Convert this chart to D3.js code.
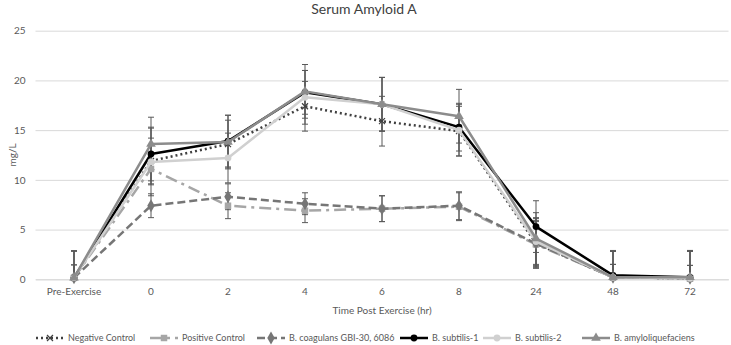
<!DOCTYPE html>
<html><head><meta charset="utf-8">
<script src="https://cdn.jsdelivr.net/npm/d3@7"></script>
<style>body{margin:0;background:#fff}svg{font-family:Lato,"Open Sans",sans-serif}</style>
</head><body><svg id="c" width="731" height="345"></svg>
<script>
const categories = ["Pre-Exercise","0","2","4","6","8","24","48","72"];
const yTicks = [0,5,10,15,20,25];
const negControl   = [0.15,11.9,13.6,17.4,15.9,14.9,3.6,0.2,0.1];
const posControl   = [0.15,11.1,7.4,6.9,7.1,7.3,3.5,0.2,0.1];
const coagulans    = [0.15,7.4,8.3,7.6,7.1,7.4,3.6,0.2,0.1];
const subtilis1    = [0.15,12.6,13.9,18.8,17.6,15.3,5.3,0.4,0.2];
const subtilis2    = [0.15,11.8,12.2,18.3,17.6,15.0,3.8,0.2,0.1];
const amyloliq     = [0.15,13.6,13.8,18.9,17.6,16.4,4.1,0.2,0.2];
const negErr  = [2.7,2.3,2.4,2.5,2.5,2.5,2.5,2.6,2.7];
const posErr  = [1.3,1.6,1.3,1.2,1.3,1.4,2.3,1.3,1.3];
const coagErr = [1.3,1.2,1.3,1.1,1.3,1.4,2.3,1.3,1.3];
const sub1Err = [2.7,2.7,2.6,2.2,2.7,2.4,2.6,2.5,2.7];
const sub2Err = [2.7,3.4,2.5,2.7,2.7,2.6,2.4,2.6,2.7];
const amyErr  = [2.7,2.7,2.7,2.7,2.7,2.7,2.6,2.6,2.7];
const seriesNames = ["Negative Control","Positive Control","B. coagulans GBI-30, 6086","B. subtilis-1","B. subtilis-2","B. amyloliquefaciens"];

const series = [
 {name:seriesNames[0],v:negControl,e:negErr,color:"#404040",dash:"2,3",w:2.5,m:"x"},
 {name:seriesNames[1],v:posControl,e:posErr,color:"#a6a6a6",dash:"12,5,3,5",w:2.5,m:"square"},
 {name:seriesNames[2],v:coagulans,e:coagErr,color:"#767676",dash:"8,4",w:2.5,m:"diamond"},
 {name:seriesNames[3],v:subtilis1,e:sub1Err,color:"#000000",dash:null,w:2.5,m:"circle"},
 {name:seriesNames[4],v:subtilis2,e:sub2Err,color:"#d0d0d0",dash:null,w:2.5,m:"circle"},
 {name:seriesNames[5],v:amyloliq,e:amyErr,color:"#8c8c8c",dash:null,w:2.5,m:"triangle"}
];

const svg = d3.select("#c");
const x = d3.scaleBand().domain(categories).range([35.5,728.5]);
const y = d3.scaleLinear().domain([0,25]).range([279.3,30.7]);
const cx = c => x(c)+x.bandwidth()/2;

svg.append("text").attr("x",364).attr("y",14).attr("text-anchor","middle")
  .attr("font-size",14).attr("fill","#404040").text("Serum Amyloid A");

const ya = svg.append("g").attr("transform","translate(35.5,0)")
  .call(d3.axisLeft(y).tickValues(yTicks).tickSize(-693).tickPadding(10));
ya.select(".domain").remove();
ya.selectAll("line").attr("stroke","#d9d9d9");
ya.selectAll("text").attr("font-size",10).attr("fill","#595959").attr("font-family","Lato");

const xa = svg.append("g").attr("transform","translate(0,279.3)")
  .call(d3.axisBottom(x).tickSize(0).tickPadding(9));
xa.select(".domain").attr("stroke","#d9d9d9");
xa.selectAll("text").attr("font-size",10).attr("fill","#595959").attr("font-family","Lato");

svg.append("text").attr("x",382).attr("y",314).attr("text-anchor","middle")
  .attr("font-size",10).attr("fill","#595959").text("Time Post Exercise (hr)");
svg.append("text").attr("transform","translate(16,155) rotate(-90)").attr("text-anchor","middle")
  .attr("font-size",10).attr("fill","#595959").text("mg/L");

// error bars
const eg = svg.append("g").attr("stroke","#595959").attr("stroke-width",1);
series.forEach(s=>{
  categories.forEach((c,i)=>{
    const X=cx(c), hi=Math.min(25,s.v[i]+s.e[i]), lo=Math.max(0,s.v[i]-s.e[i]);
    eg.append("line").attr("x1",X).attr("x2",X).attr("y1",y(hi)).attr("y2",y(lo));
    eg.append("line").attr("x1",X-3).attr("x2",X+3).attr("y1",y(hi)).attr("y2",y(hi));
    if (s.v[i]-s.e[i]>0) eg.append("line").attr("x1",X-3).attr("x2",X+3).attr("y1",y(lo)).attr("y2",y(lo));
  });
});

const line = d3.line().x((d,i)=>cx(categories[i])).y(d=>y(d));
function marker(g,m,X,Y,color){
  if(m==="x"){
    g.append("path").attr("d",`M${X-3},${Y-3}L${X+3},${Y+3}M${X-3},${Y+3}L${X+3},${Y-3}`)
     .attr("stroke",color).attr("stroke-width",1.2).attr("fill","none");
  } else {
    const t={square:d3.symbolSquare,diamond:d3.symbolDiamond,circle:d3.symbolCircle,triangle:d3.symbolTriangle}[m];
    const sz={square:42,diamond:48,circle:36,triangle:40}[m];
    g.append("path").attr("d",d3.symbol().type(t).size(sz)()).attr("transform",`translate(${X},${Y})`)
     .attr("fill",color);
  }
}
series.forEach(s=>{
  svg.append("path").datum(s.v).attr("d",line).attr("fill","none").attr("stroke",s.color)
    .attr("stroke-width",s.w).attr("stroke-dasharray",s.dash).attr("stroke-linejoin","round");
  const g=svg.append("g");
  s.v.forEach((v,i)=>marker(g,s.m,cx(categories[i]),y(v),s.color));
});

// legend
const legX=[36,150,257,400,483,582];
series.forEach((s,k)=>{
  const g=svg.append("g").attr("transform",`translate(${legX[k]},338)`);
  const lw = 28;
  g.append("line").attr("x1",0).attr("x2",lw).attr("y1",0).attr("y2",0).attr("stroke",s.color)
    .attr("stroke-width",s.w).attr("stroke-dasharray",s.dash);
  marker(g,s.m,lw/2,0,s.color);
  g.append("text").attr("x",lw+4).attr("y",3.2).attr("font-size",9).attr("fill","#595959").text(s.name);
});
</script></body></html>
